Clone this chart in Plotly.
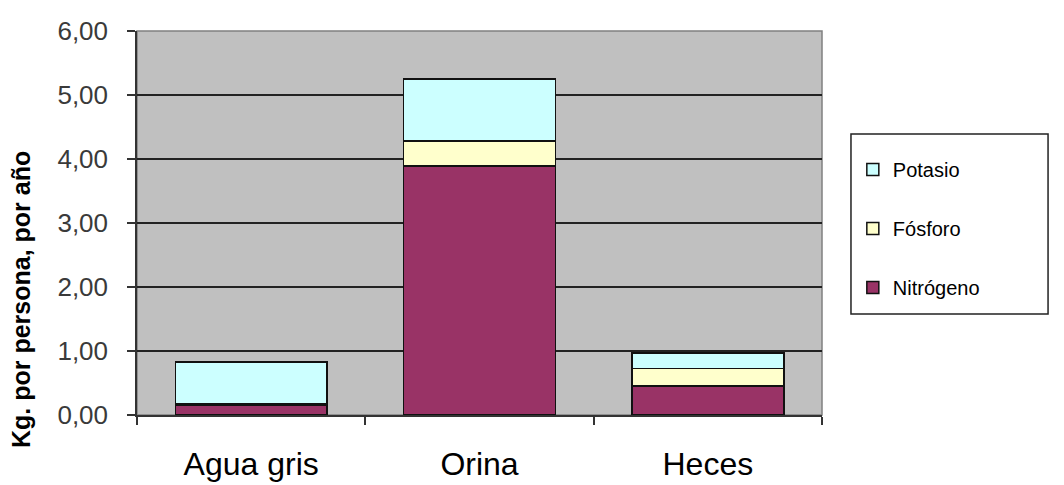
import plotly.graph_objects as go

categories = ["Agua gris", "Orina", "Heces"]
nitrogeno = [0.16, 3.89, 0.45]
fosforo = [0.02, 0.39, 0.28]
potasio = [0.65, 0.97, 0.24]

series = [
    ("Nitrógeno", nitrogeno, "#993366", 3),
    ("Fósforo", fosforo, "#FFFFCC", 2),
    ("Potasio", potasio, "#CCFFFF", 1),
]

fig = go.Figure()
for name, vals, col, rank in series:
    fig.add_trace(go.Bar(
        x=categories, y=vals, name=name, legendgroup=name, legendrank=rank,
        marker=dict(color=col, line=dict(color="#111111", width=1.5)),
    ))

narrow = "Liberation Sans Narrow, Arial Narrow, Liberation Sans, Arial, sans-serif"
reg = "Liberation Sans, Arial, sans-serif"

fig.update_layout(
    width=1064, height=485,
    margin=dict(l=137, r=242, t=31, b=70, autoexpand=False),
    barmode="stack", bargap=0.335,
    plot_bgcolor="#C0C0C0", paper_bgcolor="white",
    separators=",.",
    showlegend=True,
    legend=dict(
        x=1.045, xanchor="left", y=0.69, yanchor="top",
        font=dict(family=narrow, size=20, color="black"),
        traceorder="grouped", tracegroupgap=30,
        bgcolor="rgba(0,0,0,0)", itemwidth=30,
    ),
    shapes=[
        dict(type="rect", xref="paper", yref="paper", x0=0, x1=1, y0=0, y1=1,
             line=dict(color="#808080", width=1.5), layer="below"),
        dict(type="rect", xref="paper", yref="paper", x0=1.0423, x1=1.33, y0=0.263, y1=0.7318,
             line=dict(color="#222222", width=1.5)),
    ],
    annotations=[
        dict(text="<b>Kg. por persona, por año</b>", textangle=-90,
             xref="paper", yref="paper", x=-0.169, y=0.30,
             xanchor="center", yanchor="middle", showarrow=False,
             font=dict(family=reg, size=25, color="black")),
    ],
)

fig.update_xaxes(
    type="category", tickson="boundaries", ticks="outside", ticklen=8,
    tickcolor="#333333", tickwidth=1.5, automargin=False,
    showline=True, linecolor="#333333", linewidth=1.5,
    tickfont=dict(family=narrow, size=32, color="black"),
    ticklabelstandoff=20, showgrid=False,
)
fig.update_yaxes(
    range=[0, 6], dtick=1, tickformat=".2f", automargin=False,
    ticks="outside", ticklen=8, tickcolor="#333333", tickwidth=1.5,
    showline=True, linecolor="#333333", linewidth=1.5,
    showgrid=True, gridcolor="#222222", gridwidth=1.5,
    tickfont=dict(family=reg, size=26, color="#3a3a3a"),
    ticklabelstandoff=14, zeroline=False,
)

fig.write_html("out.html")
